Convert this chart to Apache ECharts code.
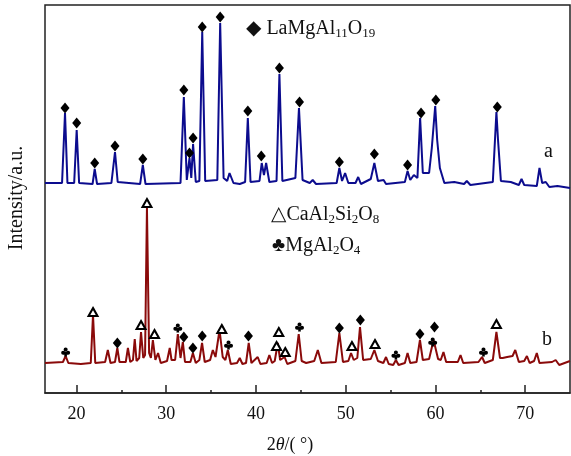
<!DOCTYPE html>
<html><head><meta charset="utf-8">
<script src="https://cdn.jsdelivr.net/npm/echarts@6/dist/echarts.min.js"></script>
<style>html,body{margin:0;padding:0;background:#fff}#c{width:571px;height:456px}</style>
</head><body><div id="c"></div>
<script>
// ---- data (2θ in degrees, intensity in a.u.) ----
const xTicks = [20, 30, 40, 50, 60, 70];
const xMinorTicks = [25, 35, 45, 55, 65];

// pattern a (blue)
const blueAngle = [16.5,18.4,18.73,19.0,19.75,20.03,20.3,21.8,22.04,22.3,23.9,24.3,24.6,27.1,27.4,27.7,31.6,31.97,32.3,32.6,32.8,33.0,33.3,33.7,34.02,34.35,35.7,36.02,36.4,36.8,37.06,37.5,38.2,38.8,39.1,39.4,40.4,40.65,40.9,41.14,41.5,42.3,42.62,42.95,44.4,44.8,45.2,46.0,46.33,46.7,49.0,49.3,49.6,49.94,50.3,51.1,51.4,51.7,52.8,53.2,53.6,54.23,54.5,56.6,56.9,57.2,57.6,58.0,58.3,58.6,59.3,59.6,59.98,60.2,60.5,61.0,62.1,63.2,63.5,63.9,66.4,66.8,66.98,67.3,68.4,69.3,69.6,69.9,71.3,71.6,71.9,72.3,72.7,73.6,75.0];
const blueIntensity = [210,210,280,210,210,263,210,209,224,209,210,241,211,209,228,209,210,296,213,235,215,249,211,212,361,212,213,370,215,212,220,210,209,211,275,211,212,230,218,230,211,212,319,212,215,285,213,210,213,209,210,225,212,220,210,210,216,209,214,230,212,213,209,211,222,213,218,215,275,220,220,245,287,253,225,210,211,209,212,208,211,281,253,212,211,208,214,208,207,225,210,211,206,207,205];

// pattern b (dark red)
const redAngle = [16.5,18.5,18.8,19.1,20.5,21.6,21.85,22.1,23.2,23.5,23.8,24.3,24.56,24.8,25.5,25.74,26.0,26.3,26.5,26.7,27.0,27.2,27.45,27.65,27.86,28.1,28.3,28.52,28.8,29.1,29.4,30.1,30.4,30.6,31.0,31.3,31.6,31.86,32.1,32.7,32.98,33.3,33.7,34.0,34.3,34.9,35.2,35.5,35.95,36.3,36.6,36.87,37.2,37.9,38.2,38.5,38.9,39.2,39.5,40.2,40.5,41.2,41.5,41.8,42.1,42.44,42.7,43.2,43.5,44.4,44.77,45.1,45.6,46.5,46.9,47.3,48.9,49.3,49.7,50.3,50.6,50.9,51.3,51.6,51.95,52.8,53.2,53.6,54.2,54.5,54.8,55.3,55.6,55.9,56.6,56.9,57.2,57.9,58.28,58.6,59.3,59.8,60.3,60.6,60.9,61.2,62.5,62.8,63.1,64.8,65.2,65.5,66.4,66.8,67.2,67.5,68.0,68.6,68.9,69.3,69.9,70.2,70.5,71.0,71.3,71.6,73.0,73.4,73.8,75.0];
const redIntensity = [30,31,37,30,29,30,78,30,31,43,30,31,45,31,31,45,31,33,54,32,35,61,35,38,185,40,35,53,33,40,30,32,45,33,33,59,35,51,31,31,40,30,33,50,31,33,43,36,63,36,33,43,29,30,35,29,30,50,30,36,29,30,38,30,32,50,33,36,29,32,59,32,30,32,43,30,31,60,31,32,40,33,35,66,33,34,43,32,30,36,29,28,33,28,30,40,30,31,53,33,34,53,34,33,41,31,31,38,30,31,36,30,33,61,35,35,36,37,43,31,32,37,30,32,40,30,31,33,28,32];

// phase markers
const laAngleA = [18.73,20.03,22.04,24.3,27.4,31.97,32.6,33.0,34.02,36.02,39.1,40.6,42.62,44.86,49.3,53.2,56.9,58.4,60.05,66.9];
const laMarkA  = [285,270,230,247,234,303,240,255,366,376,282,237,325,291,231,239,228,280,293,286];
const laAngleB = [24.56,31.97,32.98,34.02,39.17,49.3,51.64,58.28,59.9];
const laMarkB  = [50,56,45,57,57,65,73,59,66];
const caAngleB = [21.85,27.2,27.86,28.7,36.2,42.3,42.55,43.27,50.7,53.27,66.8];
const caMarkB  = [81,68,190,59,64,47,61,41,47,49,69];
const mgAngleB = [18.8,31.3,36.95,44.86,55.6,59.7,65.36];
const mgMarkB  = [41,65,48,66,38,51,41];

const zip = (a, b) => a.map((v, i) => [v, b[i]]);
const serif = '"Liberation Serif","DejaVu Serif",serif';
const clubPath = 'path://M30,28 A20,20 0 1,1 70,28 A20,20 0 1,1 30,28 Z M6,60 A20,20 0 1,1 46,60 A20,20 0 1,1 6,60 Z M54,60 A20,20 0 1,1 94,60 A20,20 0 1,1 54,60 Z M44,50 L56,50 L64,98 L36,98 Z';

const chart = echarts.init(document.getElementById('c'), null, {renderer: 'canvas'});
const sub = {fontSize: 13, fontFamily: serif, color: '#111', padding: [10, 0, 0, 0]};
chart.setOption({
  animation: false,
  backgroundColor: '#fff',
  grid: {left: 45, right: 1, top: 5, bottom: 63, show: true, borderColor: '#222', borderWidth: 1.5, backgroundColor: 'transparent'},
  xAxis: [{
    type: 'value', min: 16.5, max: 75,
    axisLine: {show: true, lineStyle: {color: '#222', width: 1.5}},
    axisTick: {show: true, inside: true, length: 8, customValues: xTicks, lineStyle: {color: '#222', width: 1.5}},
    axisLabel: {customValues: xTicks, margin: 12, fontSize: 18, fontFamily: serif, color: '#111'},
    splitLine: {show: false}
  }, {
    type: 'value', min: 16.5, max: 75, position: 'bottom',
    axisLine: {show: false},
    axisTick: {show: true, inside: true, length: 3, customValues: xMinorTicks, lineStyle: {color: '#222', width: 1.5}},
    axisLabel: {show: false},
    splitLine: {show: false}
  }],
  yAxis: {type: 'value', min: 0, max: 388, axisLine: {show: false}, axisTick: {show: false}, axisLabel: {show: false}, splitLine: {show: false}},
  series: [
    {type: 'line', data: zip(blueAngle, blueIntensity), showSymbol: false, lineStyle: {color: '#0c0c8e', width: 2}, z: 2},
    {type: 'line', data: zip(redAngle, redIntensity), showSymbol: false, lineStyle: {color: '#8a0a0a', width: 2}, z: 2},
    {type: 'scatter', data: zip(laAngleA, laMarkA), symbol: 'diamond', symbolSize: [9, 11], itemStyle: {color: '#000', opacity: 1}, z: 5},
    {type: 'scatter', data: zip(laAngleB, laMarkB), symbol: 'diamond', symbolSize: [9, 11], itemStyle: {color: '#000', opacity: 1}, z: 5},
    {type: 'scatter', data: zip(caAngleB, caMarkB), symbol: 'triangle', symbolSize: [9, 8], itemStyle: {color: '#fff', borderColor: '#000', borderWidth: 2, opacity: 1}, z: 5},
    {type: 'scatter', data: zip(mgAngleB, mgMarkB), symbol: clubPath, symbolSize: [9, 9], itemStyle: {color: '#000', opacity: 1}, z: 5}
  ],
  graphic: [
    {type: 'text', left: 246, top: 19, style: {text: '◆ LaMgAl{s|11}O{s|19}', font: '20px ' + serif, fill: '#111', rich: {s: sub}}},
    {type: 'text', left: 271, top: 205, style: {text: '△CaAl{s|2}Si{s|2}O{s|8}', font: '20px ' + serif, fill: '#111', rich: {s: sub}}},
    {type: 'text', left: 272, top: 236, style: {text: '♣MgAl{s|2}O{s|4}', font: '20px ' + serif, fill: '#111', rich: {s: sub}}},
    {type: 'text', left: 544, top: 142, style: {text: 'a', font: '20px ' + serif, fill: '#111'}},
    {type: 'text', left: 542, top: 330, style: {text: 'b', font: '20px ' + serif, fill: '#111'}},
    {type: 'text', x: 290, y: 445, style: {text: '2{i|θ}/( °)', font: '18px ' + serif, fill: '#111', align: 'center', verticalAlign: 'middle', rich: {i: {fontStyle: 'italic', fontSize: 18, fontFamily: serif}}}},
    {type: 'text', x: 17, y: 198, rotation: Math.PI / 2, style: {text: 'Intensity/a.u.', font: '20px ' + serif, fill: '#111', align: 'center', verticalAlign: 'middle'}}
  ]
});
</script></body></html>
